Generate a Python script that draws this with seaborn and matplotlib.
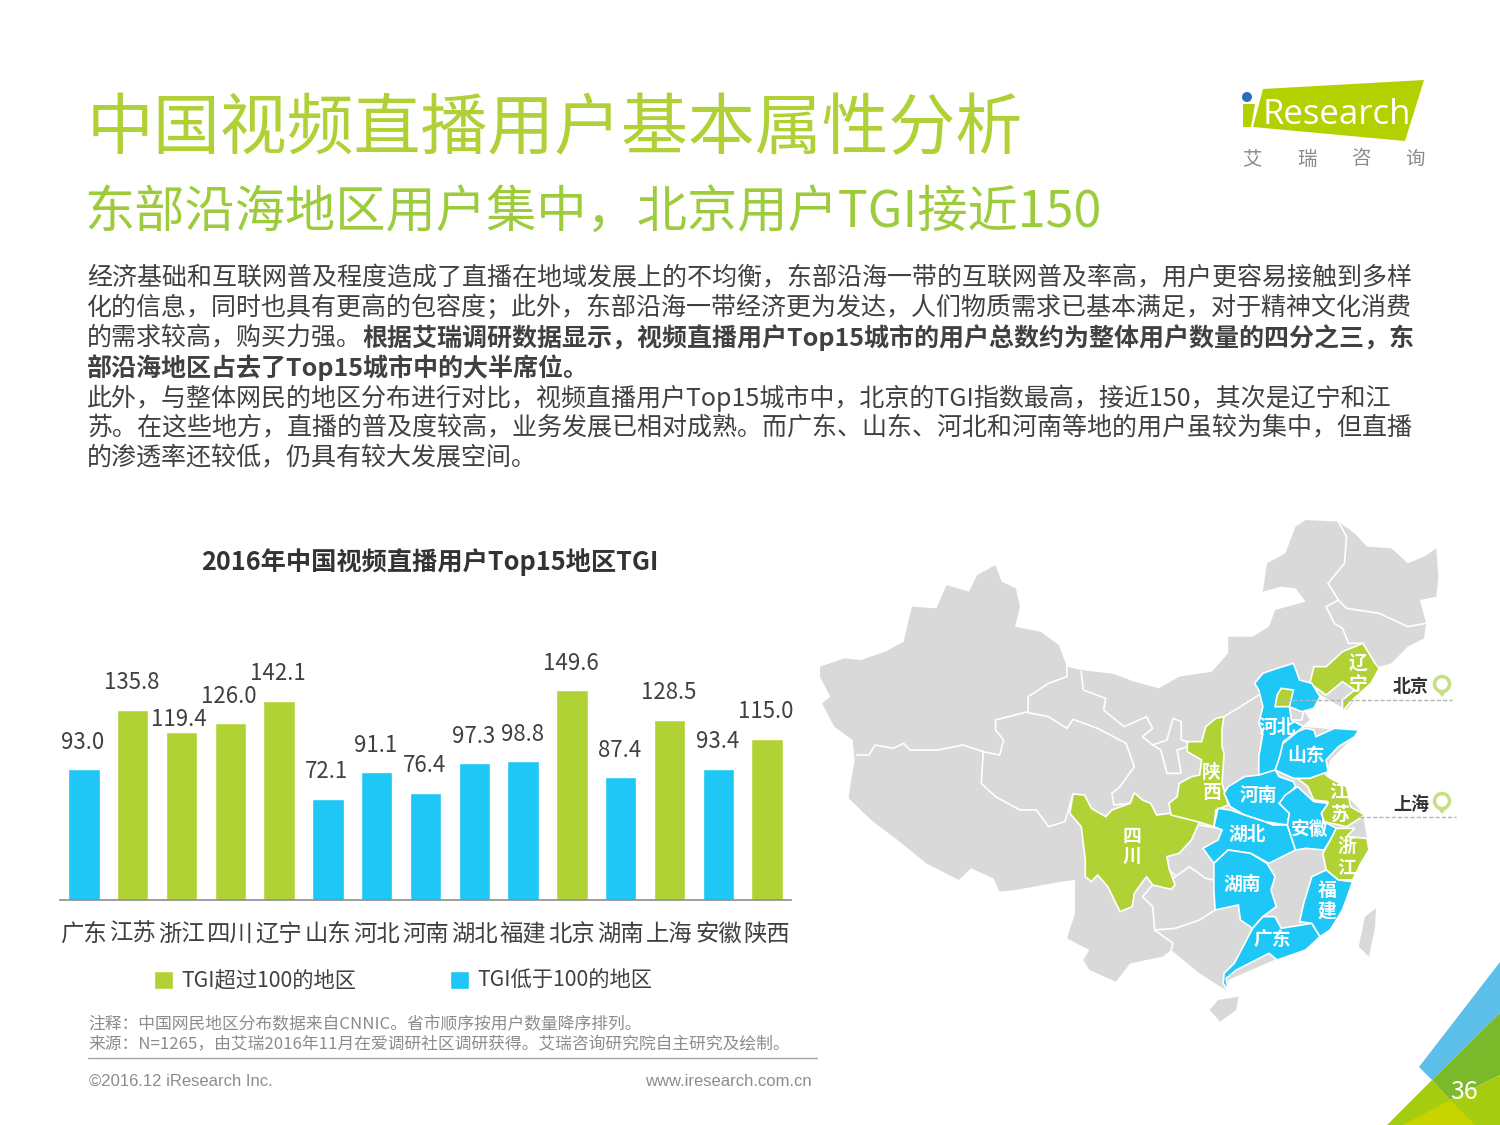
import matplotlib
matplotlib.use("Agg")
import matplotlib.pyplot as plt
from matplotlib.patches import Polygon, Circle
import pandas as pd
import seaborn as sns

# --- chart values ---
regions = ["广东", "江苏", "浙江", "四川", "辽宁", "山东", "河北", "河南", "湖北", "福建", "北京", "湖南", "上海", "安徽", "陕西"]
tgi = [93.0, 135.8, 119.4, 126.0, 142.1, 72.1, 91.1, 76.4, 97.3, 98.8, 149.6, 87.4, 128.5, 93.4, 115.0]
high_label = "TGI超过100的地区"
low_label = "TGI低于100的地区"

# --- text ---
title = "中国视频直播用户基本属性分析"
subtitle = "东部沿海地区用户集中，北京用户TGI接近150"
chart_title = "2016年中国视频直播用户Top15地区TGI"
body_lines = [
    [("经济基础和互联网普及程度造成了直播在地域发展上的不均衡，东部沿海一带的互联网普及率高，用户更容易接触到多样", "normal")],
    [("化的信息，同时也具有更高的包容度；此外，东部沿海一带经济更为发达，人们物质需求已基本满足，对于精神文化消费", "normal")],
    [("的需求较高，购买力强。", "normal"), ("根据艾瑞调研数据显示，视频直播用户Top15城市的用户总数约为整体用户数量的四分之三，东", "bold")],
    [("部沿海地区占去了Top15城市中的大半席位。", "bold")],
    [("此外，与整体网民的地区分布进行对比，视频直播用户Top15城市中，北京的TGI指数最高，接近150，其次是辽宁和江", "normal")],
    [("苏。在这些地方，直播的普及度较高，业务发展已相对成熟。而广东、山东、河北和河南等地的用户虽较为集中，但直播", "normal")],
    [("的渗透率还较低，仍具有较大发展空间。", "normal")],
]

# --- map outlines ---
china = [(0,440),(60,415),(100,420),(160,395),(205,365),(225,260),(285,265),(310,195),(365,215),(385,165),(430,135),(445,185),(480,205),(490,260),(478,320),(540,335),(585,375),(605,440),(640,450),(720,462),(770,485),(830,505),(880,470),(960,455),(1000,400),(1000,350),(1060,350),(1100,320),(1115,270),(1190,245),(1165,205),(1130,200),(1085,215),(1095,130),(1140,100),(1165,20),(1190,0),(1270,5),(1310,40),(1340,80),(1400,85),(1440,130),(1480,110),(1510,85),(1515,170),(1510,230),(1470,240),(1485,310),(1480,355),(1440,380),(1400,430),(1370,440),(1350,480),(1290,570),(1220,520),(1180,560),(1200,600),(1180,620),(1320,635),(1250,720),(1240,760),(1330,880),(1345,990),(1300,1090),(1230,1240),(1150,1300),(1000,1380),(1000,1415),(930,1360),(860,1290),(840,1310),(760,1330),(725,1385),(660,1350),(645,1320),(660,1290),(605,1255),(625,1180),(625,1080),(590,1085),(480,1110),(440,1115),(425,1075),(370,1045),(340,1080),(260,1030),(190,960),(130,905),(70,835),(75,790),(85,720),(80,660),(35,620),(5,550),(25,530),(0,470)]
hainan = [(955,1470),(975,1440),(1025,1430),(1020,1470),(980,1505)]
taiwan = [(1320,1280),(1335,1190),(1362,1165),(1360,1220),(1345,1310)]
tianjin = [(1150,560),(1185,575),(1180,600),(1155,600)]
green_provinces = [
    [(620,822),(648,825),(665,865),(700,890),(715,870),(760,850),(770,818),(790,840),(810,850),(825,885),(855,880),(930,905),(910,960),(880,1000),(850,1010),(855,1045),(870,1095),(860,1108),(815,1095),(800,1070),(770,1120),(765,1160),(735,1175),(705,1100),(680,1065),(665,1085),(650,1070),(650,1020),(640,920),(612,880)],
    [(990,590),(985,625),(985,680),(990,700),(985,790),(995,830),(1000,855),(970,870),(965,920),(925,905),(860,885),(855,850),(875,830),(880,790),(910,770),(930,765),(935,720),(900,695),(900,665),(935,665),(945,620),(970,595)],
    [(1260,925),(1310,925),(1290,950),(1340,955),(1345,990),(1325,1030),(1305,1080),(1270,1080),(1240,1050),(1232,1000),(1250,960)],
    [(1160,765),(1230,755),(1250,775),(1290,800),(1300,860),(1335,885),(1310,905),(1290,920),(1235,905),(1228,880),(1245,845),(1210,840),(1195,800)],
    [(1330,370),(1360,430),(1370,445),(1350,490),(1300,545),(1280,575),(1280,540),(1310,510),(1280,485),(1240,525),(1200,490),(1210,440),(1240,440),(1280,395)],
]
blue_provinces = [
    [(1000,800),(1040,770),(1075,765),(1110,740),(1125,770),(1160,785),(1165,800),(1125,850),(1150,880),(1145,915),(1090,905),(1040,885),(1005,860),(990,820)],
    [(975,865),(1005,870),(1040,885),(1090,905),(1110,915),(1145,915),(1165,990),(1100,1030),(1055,1000),(1000,990),(965,1030),(938,985),(975,960),(985,930),(965,920)],
    [(1000,990),(1055,1000),(1095,1030),(1115,1070),(1105,1110),(1118,1160),(1085,1190),(1060,1225),(1030,1200),(1025,1155),(968,1170),(965,1110),(965,1030)],
    [(1085,1190),(1115,1190),(1130,1225),(1205,1210),(1225,1250),(1190,1290),(1120,1320),(1100,1300),(1020,1350),(995,1375),(1000,1415),(988,1390),(990,1360),(1015,1330),(1045,1260),(1060,1225)],
    [(1240,1050),(1270,1080),(1305,1085),(1295,1120),(1280,1170),(1250,1230),(1225,1250),(1205,1210),(1175,1205),(1185,1150),(1205,1070)],
    [(1170,800),(1210,845),(1245,850),(1228,880),(1235,905),(1265,925),(1250,960),(1235,990),(1190,985),(1165,990),(1145,915),(1150,880),(1125,850),(1140,825)],
    [(1190,625),(1210,630),(1215,650),(1260,625),(1320,630),(1310,650),(1270,680),(1240,720),(1245,755),(1200,775),(1160,775),(1115,750),(1130,690),(1130,675),(1170,635)],
    [(1085,460),(1120,445),(1160,430),(1175,480),(1205,490),(1225,530),(1210,565),(1180,575),(1150,560),(1155,600),(1185,620),(1135,665),(1125,715),(1115,750),(1075,765),(1075,710),(1085,640),(1075,610),(1085,560),(1075,510),(1065,490)],
]
beijing = [(1130,505),(1160,510),(1150,560),(1115,560),(1120,525)]
border_lines = [
    [(605,440),(605,470),(560,490),(510,530),(510,575),(430,600),(430,630),(450,660),(440,705),(400,695),(350,675),(290,690),(220,690),(205,670),(180,685),(135,675),(120,705),(90,705)],
    [(400,695),(395,790),(430,830),(490,870),(530,870),(560,920),(600,905),(620,822)],
    [(510,578),(560,590),(605,625),(620,598),(680,625),(750,670),(770,740),(735,800),(715,820),(720,855),(760,850)],
    [(640,455),(645,510),(700,535),(695,570),(745,620),(800,590),(815,625),(790,650),(815,675),(835,690),(850,760),(885,760),(875,690),(900,680)],
    [(815,675),(850,660),(865,595),(885,605),(885,660),(900,665)],
    [(990,590),(1030,560),(1075,525)],
    [(1240,260),(1260,310),(1280,325),(1295,370),(1330,370)],
    [(1240,260),(1270,240),(1290,265),(1370,280),(1440,320),(1485,310)],
    [(1245,190),(1285,130),(1290,50),(1270,5)],
    [(1245,190),(1270,240)],
    [(865,1075),(905,1040),(945,1075),(965,1080)],
    [(815,1095),(790,1130),(815,1160),(820,1230),(870,1225),(930,1200),(968,1170)],
    [(820,1230),(865,1270),(860,1290)],
    [(850,1010),(855,1050),(870,1065)],
    [(930,915),(975,925)],
]
map_labels = [("辽", 1358, 664), ("宁", 1358, 684), ("河北", 1277, 727), ("山东", 1306, 755), ("陕", 1211, 772), ("西", 1211, 793),
              ("河南", 1258, 795), ("江", 1339, 792), ("苏", 1339, 814), ("安徽", 1310, 829), ("湖北", 1247, 834), ("四", 1132, 836),
              ("川", 1132, 856), ("浙", 1347, 847), ("江", 1347, 868), ("湖南", 1242, 884), ("福", 1327, 890), ("建", 1327, 911), ("广东", 1272, 940)]

GREEN = "#B1D235"
BLUE = "#1EC7F5"
GREY_MAP = "#D9D9D9"
DARK = "#404040"
FOOT = "#8C8C8C"

sns.set_theme(style="white")
plt.rcParams["font.family"] = ["Noto Sans CJK SC", "DejaVu Sans"]

fig = plt.figure(figsize=(15, 11.25), dpi=100, facecolor="white")

# full page axes in picture pixels, for everything around the bar chart
page = fig.add_axes([0, 0, 1, 1])
page.set_xlim(0, 1500)
page.set_ylim(1125, 0)
page.axis("off")


def to_px(points):
    # map outlines were traced on a crop that is 2.45x wide and 3x high
    return [(820 + x / 2.45, 520 + y / 3) for x, y in points]


def add_shape(points, color, lw=1.2, z=2):
    page.add_patch(Polygon(to_px(points), closed=True, facecolor=color, edgecolor="white", lw=lw, zorder=z))


# --- heading ---
page.text(87, 130, title, fontsize=48.2, color="#AFD136", va="center", ha="left")
page.text(84, 213, subtitle, fontsize=36.2, color="#9CCB3B", va="center", ha="left")

# --- body text, line 3 changes weight halfway ---
renderer = fig.canvas.get_renderer()
for n, runs in enumerate(body_lines):
    x = 87
    for text, weight in runs:
        t = page.text(x, 278 + n * 30, text, fontsize=18, color=DARK, va="center", ha="left", fontweight=weight)
        box = t.get_window_extent(renderer)
        x += box.width * 1500 / fig.bbox.width

# --- logo ---
page.add_patch(Polygon([(1263, 89), (1424, 80), (1405, 141), (1253, 127)], facecolor="#B3D000", edgecolor="none"))
page.add_patch(Polygon([(1243, 104), (1255, 104), (1251, 127), (1243, 127)], facecolor="#B3D000", edgecolor="none"))
page.add_patch(Circle((1247, 97), 5, facecolor="#2A6FB5", edgecolor="none"))
page.text(1263, 115, "Research", fontsize=25, color="white", va="center", ha="left", family="Open Sans")
for ch, x in zip("艾瑞咨询", [1252, 1307, 1361, 1415]):
    page.text(x, 159, ch, fontsize=14, color="#8A8A8A", va="center", ha="center")

# --- corner decoration and page number ---
page.add_patch(Polygon([(1419, 1067), (1500, 962), (1500, 1013), (1432, 1080)], facecolor="#5BBFEA", edgecolor="none"))
page.add_patch(Polygon([(1432, 1080), (1500, 1013), (1500, 1075), (1450, 1100)], facecolor="#7AB929", edgecolor="none"))
page.add_patch(Polygon([(1432, 1080), (1450, 1100), (1500, 1075), (1500, 1125), (1387, 1125)], facecolor="#A6CC10", edgecolor="none"))
page.add_patch(Polygon([(1403, 1125), (1450, 1100), (1475, 1125)], facecolor="#C8D400", edgecolor="none"))
page.text(1464, 1092, "36", fontsize=18, color="white", va="center", ha="center")

# --- map ---
add_shape(china, GREY_MAP, lw=0)
add_shape(hainan, GREY_MAP, lw=0)
add_shape(taiwan, GREY_MAP, lw=0)
add_shape(tianjin, GREY_MAP, z=3)
for line in border_lines:
    xs, ys = zip(*to_px(line))
    page.plot(xs, ys, color="white", lw=1.2, zorder=2.5)
for shape in green_provinces:
    add_shape(shape, GREEN, z=3)
for shape in blue_provinces:
    add_shape(shape, BLUE, z=3)
add_shape(beijing, GREEN, z=4)
for text, x, y in map_labels:
    page.text(x, y, text, fontsize=13.5, fontweight="bold", color="white", va="center", ha="center", zorder=5)

# --- Beijing and Shanghai callouts ---
for name, y, x0, y_line, x1 in [("北京", 685, 1280, 700, 1452), ("上海", 802, 1360, 817, 1456)]:
    page.plot([x0, x1], [y_line, y_line], color="#B5B5B5", lw=1, ls=(0, (3, 1.5)), zorder=6)
    page.text(1411, y + 2, name, fontsize=13, fontweight="bold", color="#333333", va="center", ha="center", zorder=6)
    page.add_patch(Polygon([(1435, y + 3), (1449, y + 3), (1442, y + 12)], facecolor="#C5DF85", edgecolor="none", zorder=6))
    page.add_patch(Circle((1442, y - 1), 7.5, facecolor="white", edgecolor="#C5DF85", lw=2.5, zorder=6))

# --- footer ---
page.text(88, 1025, "注释：中国网民地区分布数据来自CNNIC。省市顺序按用户数量降序排列。", fontsize=12.1, color=FOOT, va="center", ha="left")
page.text(88, 1045, "来源：N=1265，由艾瑞2016年11月在爱调研社区调研获得。艾瑞咨询研究院自主研究及绘制。", fontsize=12.1, color=FOOT, va="center", ha="left")
page.plot([88, 817], [1058, 1058], color="#A6A6A6", lw=1)
page.text(89, 1081, "©2016.12 iResearch Inc.", fontsize=12, color=FOOT, va="center", ha="left", family="Liberation Sans")
page.text(812, 1081, "www.iresearch.com.cn", fontsize=12, color=FOOT, va="center", ha="right", family="Liberation Sans")

# --- bar chart ---
df = pd.DataFrame({"region": regions, "tgi": tgi})
df["group"] = [high_label if v > 100 else low_label for v in tgi]

ax = fig.add_axes([60 / 1500, 1 - 899.5 / 1125, (791 - 60) / 1500, (899.5 - 640) / 1125])
ax.patch.set_alpha(0)
sns.barplot(data=df, x="region", y="tgi", hue="group", hue_order=[high_label, low_label],
            palette={high_label: GREEN, low_label: BLUE}, dodge=False, width=0.64, ax=ax, saturation=1)
ax.set_xlim(-0.49, 14.49)
ax.set_ylim(0, 185.5)
ax.set_xlabel("")
ax.set_ylabel("")
ax.set_yticks([])
ax.tick_params(axis="x", length=0, pad=17, labelsize=16.8, labelcolor=DARK)
sns.despine(ax=ax, left=True)
ax.spines["bottom"].set_color("#8C8C8C")
ax.spines["bottom"].set_linewidth(1.2)

# labels sit a fixed distance above the bars, except 119.4 which was moved by hand
for i, v in enumerate(tgi):
    nudge = -14 if v == 119.4 else 0
    dx = -3 if v == 119.4 else -1
    ax.annotate(f"{v:.1f}", (i, v), xytext=(dx, 27 + nudge), textcoords="offset pixels",
                ha="center", va="center", fontsize=16, color=DARK, annotation_clip=False)

ax.legend(ncol=2, frameon=False, loc="center left", bbox_to_anchor=(0.128, -0.315), fontsize=15.3,
          handlelength=0.9, handleheight=0.9, handletextpad=0.4, columnspacing=4.4, labelcolor=DARK, borderpad=0, borderaxespad=0)

page.text(430, 562, chart_title, fontsize=18.2, fontweight="bold", color="#333333", va="center", ha="center")

fig.savefig("out.png", dpi=100)
